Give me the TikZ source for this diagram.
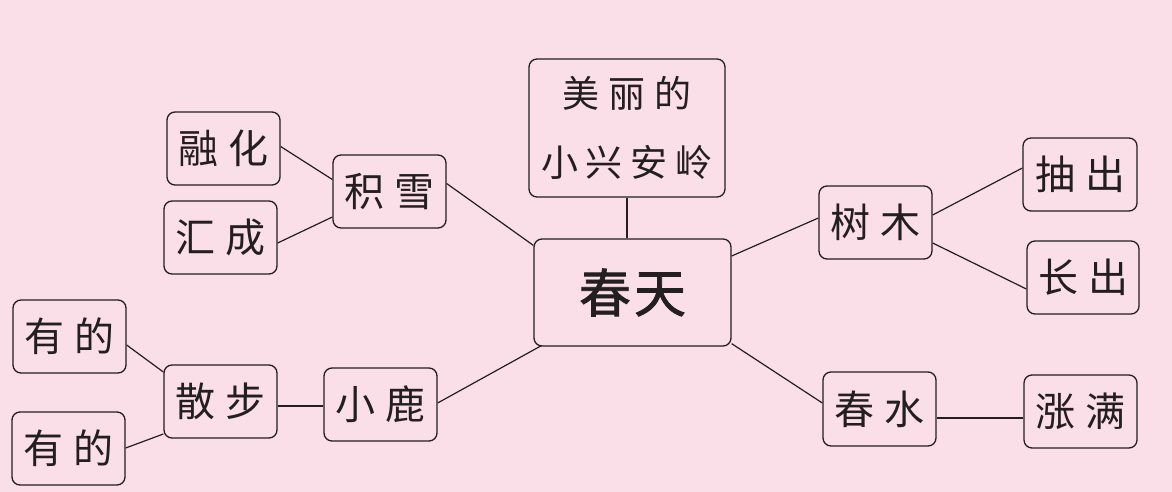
\documentclass[tikz,border=0pt]{standalone}
\usepackage{fontspec}
\newfontfamily\cjk{Noto Sans CJK SC}
\newfontfamily\cjkheavy[FakeBold=1.5]{Noto Sans CJK SC}
\usetikzlibrary{calc}
\definecolor{bgpink}{RGB}{250,222,232}
\definecolor{ink}{RGB}{35,31,32}
\tikzset{
  box/.style={draw=ink, line width=1.3pt, rounded corners=8pt, fill=bgpink,
    minimum width=113pt, minimum height=73pt, inner sep=0pt, text=ink,
    font=\cjk\fontsize{40}{42}\selectfont},
  link/.style={draw=ink, line width=1.2pt}
}
\newcommand{\gap}{\hspace{10pt}}
\begin{document}
\begin{tikzpicture}[x=1pt,y=-1pt]
\fill[bgpink] (0,0) rectangle (1172,492);
\useasboundingbox (0,0) rectangle (1172,492);

\node[box, minimum width=196pt, minimum height=138pt, align=center,
      font=\cjk\fontsize{37}{69}\selectfont] (top) at (627,128) {美\hspace{9pt}丽\hspace{9pt}的\\小\hspace{8pt}兴\hspace{8pt}安\hspace{8pt}岭};
\node[box, minimum width=197pt, minimum height=107pt,
      font=\cjkheavy\fontsize{52}{54}\selectfont] (chun) at (632.5,292.5) {春\hspace{3pt}天};

\node[box] (jixue) at (389.5,191.5) {积\gap 雪};
\node[box] (ronghua) at (223.5,148.5) {融\gap 化};
\node[box] (huicheng) at (220.5,237.5) {汇\gap 成};
\node[box] (youde1) at (69.5,336.5) {有\gap 的};
\node[box] (youde2) at (68.5,448.5) {有\gap 的};
\node[box] (sanbu) at (220.5,401.5) {散\gap 步};
\node[box] (xiaolu) at (380.5,404.5) {小\gap 鹿};
\node[box] (shumu) at (875.5,222.5) {树\gap 木};
\node[box, minimum width=114pt] (chouchu) at (1080,174.5) {抽\gap 出};
\node[box, minimum width=112pt] (zhangchu) at (1083,277.5) {长\gap 出};
\node[box, minimum height=74pt] (chunshui) at (879.5,409) {春\gap 水};
\node[box] (zhangman) at (1080.5,411.5) {涨\gap 满};

\draw[link] (top.south) -- (top.south |- chun.north);
\draw[link] ($(jixue.east)+(0,-8)$) -- ($(chun.north west)+(0,7)$);
\draw[link] ($(ronghua.east)+(0,-2)$) -- ($(jixue.west)+(0,-12)$);
\draw[link] ($(huicheng.east)+(0,5.5)$) -- ($(jixue.west)+(0,25.5)$);
\draw[link] ($(youde1.east)+(0,8.5)$) -- ($(sanbu.west)+(0,-29.5)$);
\draw[link] ($(youde2.east)+(0,-0.5)$) -- ($(sanbu.west)+(0,32.5)$);
\draw[link] ($(sanbu.east)+(0,4.5)$) -- ($(xiaolu.west)+(0,1.5)$);
\draw[link] ($(xiaolu.east)+(0,-1.5)$) -- ($(chun.south west)+(8,-1)$);
\draw[link] ($(chun.east)+(0,-36.5)$) -- ($(shumu.west)+(0,-4.5)$);
\draw[link] ($(shumu.east)+(0,-7.5)$) -- ($(chouchu.west)+(0,-6.5)$);
\draw[link] ($(shumu.east)+(0,20.5)$) -- ($(zhangchu.west)+(0,11.5)$);
\draw[link] ($(chun.south east)+(0,-3)$) -- ($(chunshui.west)+(0,-6)$);
\draw[link] ($(chunshui.east)+(0,9)$) -- ($(zhangman.west)+(0,6.5)$);
\end{tikzpicture}
\end{document}
